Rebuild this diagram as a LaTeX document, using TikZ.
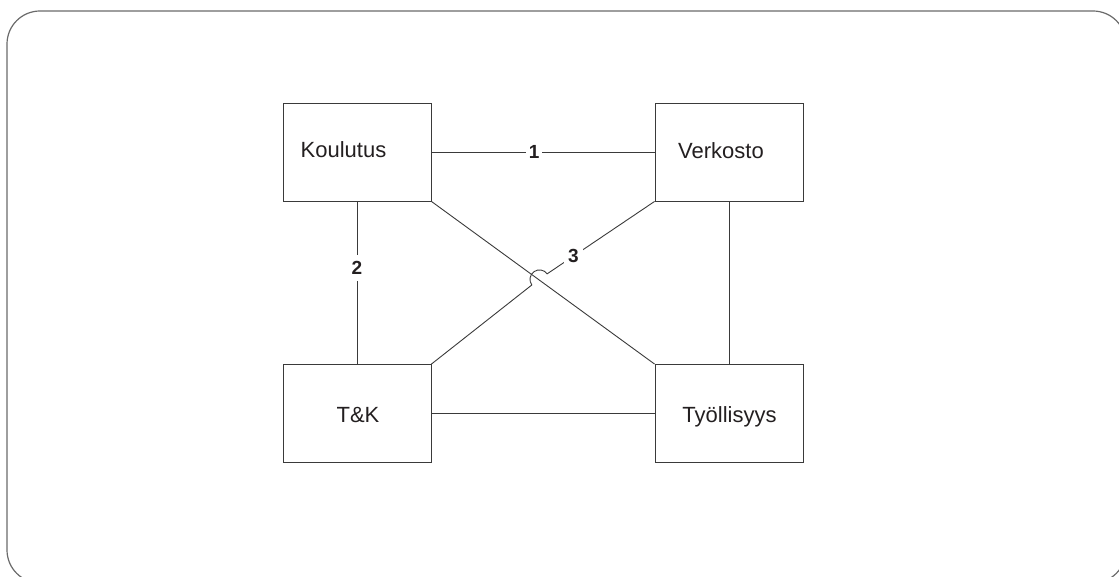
\documentclass[tikz,border=0pt]{standalone}
\usepackage{fontspec}
\setmainfont{Liberation Sans}
\definecolor{linecol}{HTML}{3A3A3A}
\definecolor{framecol}{HTML}{6A6A6A}
\definecolor{textcol}{HTML}{231F20}
\begin{document}
\begin{tikzpicture}[x=1pt,y=1pt,yscale=-1,
  box/.style={draw=linecol, line width=0.9pt, minimum width=148pt, minimum height=98pt, inner sep=0pt},
  conn/.style={draw=linecol, line width=0.9pt},
  txt/.style={text=textcol, inner sep=0pt, font=\fontsize{22}{26}\selectfont},
  lab/.style={text=textcol, fill=white, inner xsep=3pt, inner ysep=5pt, font=\fontsize{19}{22}\selectfont\bfseries}]
\useasboundingbox (0,0) rectangle (1119,577);
% outer frame
\draw[framecol, line width=1.2pt, rounded corners=33pt] (7,11) rectangle (1126,583);
% boxes
\node[box] (K) at (357,152) {};
\node[box] (V) at (729,152) {};
\node[box] (T) at (357,413.5) {};
\node[box] (Y) at (729,413.5) {};
% box texts
\node[txt, anchor=base] (Kt) at (343.5,158) {Koulutus};
\node[txt, anchor=base] (Vt) at (721,159) {Verkosto};
\node[txt, anchor=base] (Tt) at (358,422) {T\&K};
\node[txt, anchor=base] (Yt) at (729.5,422) {Työllisyys};
% connectors
\draw[conn] (K.east) -- node[lab, pos=0.46] (n1) {1} (V.west);
\draw[conn] (K.south) -- node[lab, pos=0.41, inner ysep=6pt] (n2) {2} (T.north);
\draw[conn] (V.south) -- (Y.north);
\draw[conn] (T.east) -- (Y.west);
\draw[conn] (K.south east) -- (Y.north west);
\coordinate (hopA) at (531.8,285.0);
\draw[conn] (T.north east) -- (hopA) arc[start angle=144, end angle=324, radius=9.5]
  -- node[lab, pos=0.245, inner sep=4pt] (n3) {3} (V.south west);
\end{tikzpicture}
\end{document}
